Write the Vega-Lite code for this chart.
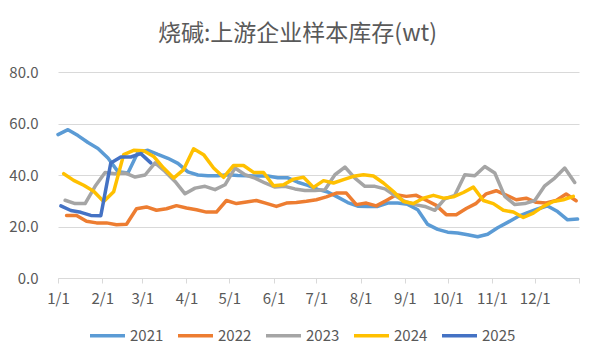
{
  "$schema": "https://vega.github.io/schema/vega-lite/v6.json",
  "width": 521,
  "height": 206,
  "autosize": {"type": "none"},
  "padding": {"left": 58, "top": 72, "right": 20, "bottom": 82},
  "background": "white",
  "config": {
    "font": "Noto Sans CJK SC",
    "view": {"stroke": null},
    "line": {"strokeWidth": 3.5, "strokeJoin": "round", "strokeCap": "round"}
  },
  "title": {
    "text": "烧碱:上游企业样本库存(wt)",
    "fontSize": 23,
    "font": "Noto Sans CJK SC",
    "fontWeight": "normal",
    "color": "#595959",
    "anchor": "middle",
    "offset": 19,
    "dx": -21
  },
  "datasets": {
    "d2021": [
      {"year":"2021","date":"2001-01-01","v":55.7},{"year":"2021","date":"2001-01-08","v":57.6},{"year":"2021","date":"2001-01-15","v":55.3},{"year":"2021","date":"2001-01-22","v":52.6},{"year":"2021","date":"2001-01-29","v":50.3},
      {"year":"2021","date":"2001-02-05","v":46.6},{"year":"2021","date":"2001-02-12","v":41.3},{"year":"2021","date":"2001-02-19","v":40.8},{"year":"2021","date":"2001-02-26","v":48.8},
      {"year":"2021","date":"2001-03-05","v":49.6},{"year":"2021","date":"2001-03-12","v":48.0},{"year":"2021","date":"2001-03-19","v":46.5},{"year":"2021","date":"2001-03-26","v":44.5},
      {"year":"2021","date":"2001-04-02","v":41.2},{"year":"2021","date":"2001-04-09","v":40.0},{"year":"2021","date":"2001-04-16","v":39.7},{"year":"2021","date":"2001-04-23","v":39.7},{"year":"2021","date":"2001-04-30","v":40.1},
      {"year":"2021","date":"2001-05-07","v":39.8},{"year":"2021","date":"2001-05-14","v":39.7},{"year":"2021","date":"2001-05-21","v":39.6},{"year":"2021","date":"2001-05-28","v":39.6},
      {"year":"2021","date":"2001-06-04","v":38.9},{"year":"2021","date":"2001-06-11","v":38.9},{"year":"2021","date":"2001-06-18","v":37.2},{"year":"2021","date":"2001-06-25","v":36.0},
      {"year":"2021","date":"2001-07-02","v":34.4},{"year":"2021","date":"2001-07-09","v":33.4},{"year":"2021","date":"2001-07-16","v":31.4},{"year":"2021","date":"2001-07-23","v":29.3},{"year":"2021","date":"2001-07-30","v":27.9},
      {"year":"2021","date":"2001-08-06","v":27.8},{"year":"2021","date":"2001-08-13","v":27.8},{"year":"2021","date":"2001-08-20","v":29.1},{"year":"2021","date":"2001-08-27","v":29.1},
      {"year":"2021","date":"2001-09-03","v":28.6},{"year":"2021","date":"2001-09-10","v":26.5},{"year":"2021","date":"2001-09-17","v":20.8},{"year":"2021","date":"2001-09-24","v":18.9},
      {"year":"2021","date":"2001-10-01","v":17.8},{"year":"2021","date":"2001-10-08","v":17.5},{"year":"2021","date":"2001-10-15","v":16.8},{"year":"2021","date":"2001-10-22","v":16.0},{"year":"2021","date":"2001-10-29","v":17.0},
      {"year":"2021","date":"2001-11-05","v":19.5},{"year":"2021","date":"2001-11-12","v":21.6},{"year":"2021","date":"2001-11-19","v":23.8},{"year":"2021","date":"2001-11-26","v":25.4},
      {"year":"2021","date":"2001-12-03","v":26.8},{"year":"2021","date":"2001-12-10","v":28.0},{"year":"2021","date":"2001-12-17","v":25.8},{"year":"2021","date":"2001-12-24","v":22.6},{"year":"2021","date":"2001-12-31","v":22.9}
    ],
    "d2022": [
      {"year":"2022","date":"2001-01-07","v":24.3},{"year":"2022","date":"2001-01-14","v":24.3},{"year":"2022","date":"2001-01-21","v":22.0},{"year":"2022","date":"2001-01-28","v":21.4},
      {"year":"2022","date":"2001-02-04","v":21.4},{"year":"2022","date":"2001-02-11","v":20.7},{"year":"2022","date":"2001-02-18","v":20.9},{"year":"2022","date":"2001-02-25","v":26.9},
      {"year":"2022","date":"2001-03-04","v":27.6},{"year":"2022","date":"2001-03-11","v":26.3},{"year":"2022","date":"2001-03-18","v":26.9},{"year":"2022","date":"2001-03-25","v":28.1},
      {"year":"2022","date":"2001-04-01","v":27.2},{"year":"2022","date":"2001-04-08","v":26.5},{"year":"2022","date":"2001-04-15","v":25.6},{"year":"2022","date":"2001-04-22","v":25.6},{"year":"2022","date":"2001-04-29","v":30.1},
      {"year":"2022","date":"2001-05-06","v":28.9},{"year":"2022","date":"2001-05-13","v":29.5},{"year":"2022","date":"2001-05-20","v":30.1},{"year":"2022","date":"2001-05-27","v":29.0},
      {"year":"2022","date":"2001-06-03","v":27.8},{"year":"2022","date":"2001-06-10","v":29.1},{"year":"2022","date":"2001-06-17","v":29.3},{"year":"2022","date":"2001-06-24","v":29.8},
      {"year":"2022","date":"2001-07-01","v":30.4},{"year":"2022","date":"2001-07-08","v":31.5},{"year":"2022","date":"2001-07-15","v":33.0},{"year":"2022","date":"2001-07-22","v":33.0},{"year":"2022","date":"2001-07-29","v":28.5},
      {"year":"2022","date":"2001-08-05","v":29.1},{"year":"2022","date":"2001-08-12","v":28.0},{"year":"2022","date":"2001-08-19","v":30.1},{"year":"2022","date":"2001-08-26","v":32.3},
      {"year":"2022","date":"2001-09-02","v":31.7},{"year":"2022","date":"2001-09-09","v":32.1},{"year":"2022","date":"2001-09-16","v":30.2},{"year":"2022","date":"2001-09-23","v":28.2},{"year":"2022","date":"2001-09-30","v":24.6},
      {"year":"2022","date":"2001-10-07","v":24.6},{"year":"2022","date":"2001-10-14","v":27.0},{"year":"2022","date":"2001-10-21","v":29.0},{"year":"2022","date":"2001-10-28","v":32.7},
      {"year":"2022","date":"2001-11-04","v":33.9},{"year":"2022","date":"2001-11-11","v":32.2},{"year":"2022","date":"2001-11-18","v":30.4},{"year":"2022","date":"2001-11-25","v":31.0},
      {"year":"2022","date":"2001-12-02","v":29.4},{"year":"2022","date":"2001-12-09","v":29.1},{"year":"2022","date":"2001-12-16","v":30.1},{"year":"2022","date":"2001-12-23","v":32.6},{"year":"2022","date":"2001-12-30","v":30.0}
    ],
    "d2023": [
      {"year":"2023","date":"2001-01-06","v":30.2},{"year":"2023","date":"2001-01-13","v":28.9},{"year":"2023","date":"2001-01-20","v":28.9},{"year":"2023","date":"2001-01-27","v":35.6},
      {"year":"2023","date":"2001-02-03","v":41.0},{"year":"2023","date":"2001-02-10","v":40.5},{"year":"2023","date":"2001-02-17","v":40.8},{"year":"2023","date":"2001-02-24","v":39.2},
      {"year":"2023","date":"2001-03-03","v":40.0},{"year":"2023","date":"2001-03-10","v":44.7},{"year":"2023","date":"2001-03-17","v":41.4},{"year":"2023","date":"2001-03-24","v":37.5},{"year":"2023","date":"2001-03-31","v":32.7},
      {"year":"2023","date":"2001-04-07","v":34.9},{"year":"2023","date":"2001-04-14","v":35.6},{"year":"2023","date":"2001-04-21","v":34.3},{"year":"2023","date":"2001-04-28","v":36.2},
      {"year":"2023","date":"2001-05-05","v":42.7},{"year":"2023","date":"2001-05-12","v":40.1},{"year":"2023","date":"2001-05-19","v":38.8},{"year":"2023","date":"2001-05-26","v":36.9},
      {"year":"2023","date":"2001-06-02","v":35.3},{"year":"2023","date":"2001-06-09","v":35.6},{"year":"2023","date":"2001-06-16","v":34.6},{"year":"2023","date":"2001-06-23","v":34.0},{"year":"2023","date":"2001-06-30","v":34.0},
      {"year":"2023","date":"2001-07-07","v":34.3},{"year":"2023","date":"2001-07-14","v":40.1},{"year":"2023","date":"2001-07-21","v":43.1},{"year":"2023","date":"2001-07-28","v":38.8},
      {"year":"2023","date":"2001-08-04","v":35.6},{"year":"2023","date":"2001-08-11","v":35.6},{"year":"2023","date":"2001-08-18","v":34.6},{"year":"2023","date":"2001-08-25","v":32.0},
      {"year":"2023","date":"2001-09-01","v":29.7},{"year":"2023","date":"2001-09-08","v":28.5},{"year":"2023","date":"2001-09-15","v":27.8},{"year":"2023","date":"2001-09-22","v":26.3},{"year":"2023","date":"2001-09-29","v":30.7},
      {"year":"2023","date":"2001-10-06","v":32.1},{"year":"2023","date":"2001-10-13","v":40.1},{"year":"2023","date":"2001-10-20","v":39.7},{"year":"2023","date":"2001-10-27","v":43.3},
      {"year":"2023","date":"2001-11-03","v":40.8},{"year":"2023","date":"2001-11-10","v":31.7},{"year":"2023","date":"2001-11-17","v":28.5},{"year":"2023","date":"2001-11-24","v":28.9},
      {"year":"2023","date":"2001-12-01","v":30.1},{"year":"2023","date":"2001-12-08","v":35.8},{"year":"2023","date":"2001-12-15","v":38.8},{"year":"2023","date":"2001-12-22","v":42.7},{"year":"2023","date":"2001-12-29","v":37.1}
    ],
    "d2024": [
      {"year":"2024","date":"2001-01-05","v":40.5},{"year":"2024","date":"2001-01-12","v":37.9},{"year":"2024","date":"2001-01-19","v":36.0},{"year":"2024","date":"2001-01-26","v":33.7},
      {"year":"2024","date":"2001-02-02","v":29.7},{"year":"2024","date":"2001-02-09","v":33.5},{"year":"2024","date":"2001-02-16","v":47.9},{"year":"2024","date":"2001-02-23","v":49.6},
      {"year":"2024","date":"2001-03-02","v":49.4},{"year":"2024","date":"2001-03-09","v":47.2},{"year":"2024","date":"2001-03-16","v":42.7},{"year":"2024","date":"2001-03-23","v":38.8},{"year":"2024","date":"2001-03-30","v":42.1},
      {"year":"2024","date":"2001-04-06","v":50.2},{"year":"2024","date":"2001-04-13","v":47.9},{"year":"2024","date":"2001-04-20","v":42.7},{"year":"2024","date":"2001-04-27","v":39.1},
      {"year":"2024","date":"2001-05-04","v":43.7},{"year":"2024","date":"2001-05-11","v":43.7},{"year":"2024","date":"2001-05-18","v":41.0},{"year":"2024","date":"2001-05-25","v":41.0},
      {"year":"2024","date":"2001-06-01","v":35.8},{"year":"2024","date":"2001-06-08","v":36.2},{"year":"2024","date":"2001-06-15","v":38.4},{"year":"2024","date":"2001-06-22","v":39.1},{"year":"2024","date":"2001-06-29","v":35.2},
      {"year":"2024","date":"2001-07-06","v":37.8},{"year":"2024","date":"2001-07-13","v":36.9},{"year":"2024","date":"2001-07-20","v":38.2},{"year":"2024","date":"2001-07-27","v":39.5},
      {"year":"2024","date":"2001-08-03","v":40.1},{"year":"2024","date":"2001-08-10","v":39.6},{"year":"2024","date":"2001-08-17","v":36.9},{"year":"2024","date":"2001-08-24","v":33.6},{"year":"2024","date":"2001-08-31","v":29.7},
      {"year":"2024","date":"2001-09-07","v":28.9},{"year":"2024","date":"2001-09-14","v":31.0},{"year":"2024","date":"2001-09-21","v":32.1},{"year":"2024","date":"2001-09-28","v":31.0},
      {"year":"2024","date":"2001-10-05","v":31.5},{"year":"2024","date":"2001-10-12","v":33.2},{"year":"2024","date":"2001-10-19","v":35.3},{"year":"2024","date":"2001-10-26","v":30.1},
      {"year":"2024","date":"2001-11-02","v":28.9},{"year":"2024","date":"2001-11-09","v":26.3},{"year":"2024","date":"2001-11-16","v":25.6},{"year":"2024","date":"2001-11-23","v":23.5},{"year":"2024","date":"2001-11-30","v":25.2},
      {"year":"2024","date":"2001-12-07","v":27.8},{"year":"2024","date":"2001-12-14","v":29.7},{"year":"2024","date":"2001-12-21","v":30.4},{"year":"2024","date":"2001-12-28","v":31.7}
    ],
    "d2025": [
      {"year":"2025","date":"2001-01-03","v":28.0},{"year":"2025","date":"2001-01-10","v":26.2},{"year":"2025","date":"2001-01-17","v":25.5},{"year":"2025","date":"2001-01-24","v":24.3},{"year":"2025","date":"2001-01-31","v":24.2},
      {"year":"2025","date":"2001-02-07","v":44.7},{"year":"2025","date":"2001-02-14","v":47.0},{"year":"2025","date":"2001-02-21","v":47.0},{"year":"2025","date":"2001-02-28","v":48.3},{"year":"2025","date":"2001-03-07","v":44.7}
    ]
  },
  "encoding": {
    "x": {"field": "date", "type": "temporal",
          "scale": {"type": "utc", "domain": [{"year": 2001, "month": 1, "date": 1, "utc": true}, {"year": 2002, "month": 1, "date": 1, "utc": true}]},
          "axis": {"title": null,
                   "values": [{"year":2001,"month":1,"date":1,"utc":true},{"year":2001,"month":2,"date":1,"utc":true},{"year":2001,"month":3,"date":1,"utc":true},{"year":2001,"month":4,"date":1,"utc":true},{"year":2001,"month":5,"date":1,"utc":true},{"year":2001,"month":6,"date":1,"utc":true},{"year":2001,"month":7,"date":1,"utc":true},{"year":2001,"month":8,"date":1,"utc":true},{"year":2001,"month":9,"date":1,"utc":true},{"year":2001,"month":10,"date":1,"utc":true},{"year":2001,"month":11,"date":1,"utc":true},{"year":2001,"month":12,"date":1,"utc":true},{"year":2002,"month":1,"date":1,"utc":true}],
                   "labelExpr": "utcyear(datum.value) > 2001 ? '' : utcFormat(datum.value, '%-m/%-d')",
                   "grid": false, "domainColor": "#D9D9D9", "tickColor": "#D9D9D9", "tickSize": 5,
                   "labelFontSize": 15, "labelColor": "#595959", "labelPadding": 8, "labelOverlap": false, "labelFlush": false}},
    "y": {"field": "v", "type": "quantitative",
          "scale": {"domain": [0, 80]},
          "axis": {"title": null, "values": [0, 20, 40, 60, 80], "format": ".1f", "domain": false, "ticks": false,
                   "gridColor": "#D9D9D9", "labelFontSize": 15, "labelColor": "#595959", "labelPadding": 20}},
    "color": {"field": "year", "type": "nominal",
              "scale": {"domain": ["2021", "2022", "2023", "2024", "2025"], "range": ["#5B9BD5", "#ED7D31", "#A5A5A5", "#FFC000", "#4472C4"]},
              "legend": {"title": null, "orient": "none", "direction": "horizontal", "legendX": 30, "legendY": 244,
                         "symbolType": "stroke", "symbolSize": 1225, "symbolStrokeWidth": 4.5,
                         "labelFontSize": 15, "labelColor": "#595959", "columnPadding": 12, "labelOffset": 3}}
  },
  "layer": [
    {"data": {"name": "d2021"}, "mark": "line"},
    {"data": {"name": "d2022"}, "mark": "line"},
    {"data": {"name": "d2023"}, "mark": "line"},
    {"data": {"name": "d2024"}, "mark": "line"},
    {"data": {"name": "d2025"}, "mark": "line"}
  ]
}
